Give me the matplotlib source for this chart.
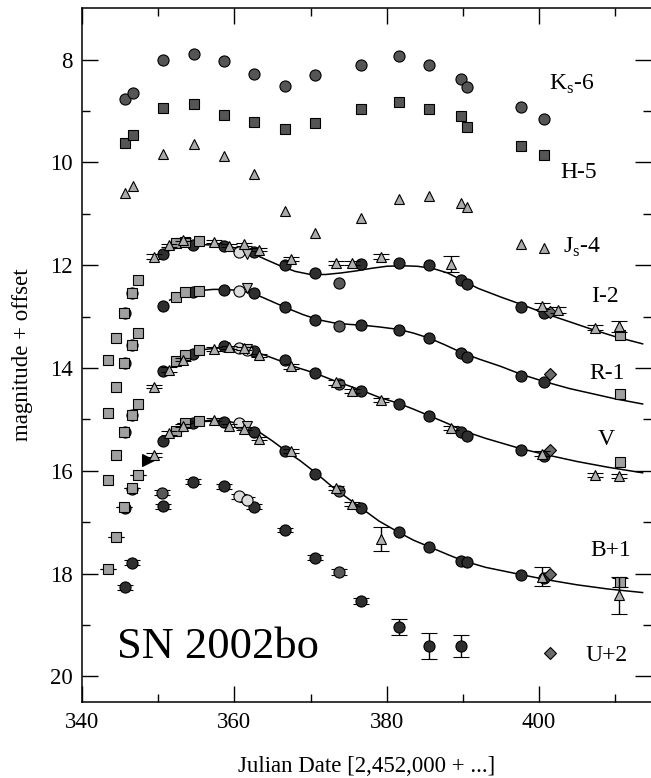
import numpy as np
import matplotlib
matplotlib.use("Agg")
import matplotlib.pyplot as plt

plt.rcParams['font.family'] = ['Liberation Serif', 'DejaVu Serif']
plt.rcParams['mathtext.fontset'] = 'custom'
plt.rcParams['mathtext.rm'] = 'Liberation Serif'

nan = np.nan

# ---- near-IR (offset already applied)
ir_t = [345.7, 346.7, 350.6, 354.7, 358.6, 362.6, 366.6, 370.6, 376.6, 381.6,
        385.6, 389.7, 390.6, 397.6, 400.6]
ks_m = [8.76, 8.65, 8.00, 7.89, 8.02, 8.27, 8.52, 8.29, 8.10, 7.92,
        8.10, 8.37, 8.54, 8.92, 9.15]
h_m = [9.62, 9.47, 8.94, 8.87, 9.07, 9.22, 9.35, 9.23, 8.96, 8.83,
       8.96, 9.10, 9.30, 9.68, 9.86]
j_m = [10.59, 10.46, 9.83, 9.65, 9.88, 10.23, 10.95, 11.37, 11.09, 10.72,
       10.65, 10.78, 10.86, 11.58, 11.66]

# ---- optical, dark circles
circ_t = [345.6, 346.5, 350.6, 354.6, 358.6, 362.6, 366.6, 370.6, 376.6, 381.6,
          385.6, 389.7, 390.6, 397.6, 400.6]
circ_I = [12.93, 12.55, 11.79, 11.61, 11.62, 11.75, 11.99, 12.16, 11.98, 11.95,
          11.99, 12.29, 12.37, 12.82, 12.92]
circ_R = [13.91, 13.55, 12.80, 12.53, 12.48, 12.54, 12.82, 13.07, 13.16, 13.26,
          13.42, 13.71, 13.79, 14.15, 14.28]
circ_V = [15.24, 14.91, 14.05, 13.73, 13.58, 13.66, 13.84, 14.10, 14.45, 14.70,
          14.94, 15.24, 15.32, 15.59, 15.71]
circ_B = [16.72, 16.36, 15.43, 15.07, 15.05, 15.25, 15.61, 16.06, 16.72, 17.20,
          17.48, 17.76, 17.77, 18.02, 18.08]
circ_U = [18.27, 17.79, 16.69, 16.21, 16.30, 16.70, 17.16, 17.69, 18.54, 19.04,
          19.41, 19.41, nan, nan, nan]
circ_Ue = [0.05, 0.05, 0.05, 0.05, 0.05, 0.05, 0.04, 0.05, 0.06, 0.16,
           0.25, 0.22, 0, 0, 0]

# medium grey circles
mid_t = [350.5, 373.7]
mid_I = [nan, 12.34]
mid_R = [nan, 13.18]
mid_V = [nan, 14.31]
mid_B = [nan, 16.40]
mid_U = [16.43, 17.97]

# light grey circles
lc_t = [360.6, 361.6]
lc_I = [11.75, nan]
lc_R = [12.50, nan]
lc_V = [13.61, 13.64]
lc_B = [15.07, nan]
lc_U = [16.50, 16.56]

# inverted triangles
inv_t = [361.6]
inv_I = [11.79]
inv_R = [12.45]
inv_V = [13.63]
inv_B = [15.12]

# light grey triangles with error bars
tri_t = [349.4, 351.4, 353.3, 357.3, 359.3, 361.2, 363.3, 367.4, 373.4, 375.4,
         379.3, 388.4, 400.4, 402.5, 407.4, 410.5]
tri_I = [11.83, 11.61, 11.50, 11.54, 11.62, 11.59, 11.70, 11.88, 11.96, 11.95,
         11.83, 11.98, 12.80, 12.87, 13.22, 13.19]
tri_Ie = [0.04, 0.03, 0.03, 0.03, 0.03, 0.03, 0.03, 0.04, 0.04, 0.04,
          0.04, 0.16, 0.06, 0.05, 0.05, 0.10]
tri_V = [14.36, 14.03, 13.84, 13.63, 13.60, 13.62, 13.75, 13.97, 14.28, 14.44,
         14.62, 15.17, 15.67, nan, 16.09, 16.11]
tri_Ve = [0.03, 0.04, 0.03, 0.03, 0.03, 0.03, 0.03, 0.04, 0.05, 0.04,
          0.04, 0.04, 0.05, 0, 0.04, 0.04]
tri_B = [15.69, 15.27, 15.12, 15.01, 15.12, 15.18, 15.38, 15.61, 16.34, 16.64,
         17.33, nan, 18.06, nan, nan, 18.42]
tri_Be = [0.04, 0.04, 0.03, 0.03, 0.03, 0.03, 0.03, 0.04, 0.04, 0.04,
          0.23, 0, 0.18, 0, 0, 0.36]

# light grey squares
sq_t = [343.4, 344.5, 345.5, 346.5, 347.4, 352.4, 353.5, 355.4, 410.6]
sq_I = [13.85, 13.42, 12.93, 12.55, 12.29, 11.56, 11.54, 11.53, 13.36]
sq_R = [14.88, 14.36, 13.91, 13.55, 13.31, 12.62, 12.53, 12.50, 14.50]
sq_V = [16.18, 15.70, 15.24, 14.91, 14.70, 13.86, 13.75, 13.65, 15.83]
sq_B = [17.92, 17.28, 16.70, 16.33, 16.09, 15.22, 15.07, 15.04, 18.17]
sq_Be = [0, 0, 0, 0, 0, 0, 0, 0, 0.09]

# diamonds
dia_t = [401.5]
dia_m = [12.91, 14.12, 15.60, 18.00, 19.55]   # I R V B U

# black triangle
blk_t = [348.7]
blk_B = [15.80]

# template fits
fitI_t = [350.5, 352, 354, 356, 358, 360, 362, 364, 366, 368, 370, 372, 374, 376,
          378, 380, 382, 384, 386, 388, 390, 392, 395, 398, 401, 404, 407, 410, 413.6]
fitI_m = [11.78, 11.68, 11.62, 11.60, 11.61, 11.66, 11.74, 11.88, 12.01, 12.12,
          12.18, 12.18, 12.15, 12.11, 12.06, 12.02, 12.01, 12.02, 12.06, 12.15,
          12.30, 12.45, 12.62, 12.78, 12.95, 13.10, 13.25, 13.39, 13.53]
fitR_t = [351.5, 353, 355, 357.2, 359, 361, 363, 365, 367, 369, 371, 373, 375, 377,
          379, 381.6, 383.5, 385.6, 387.5, 389.7, 392, 395, 397.6, 400.6, 404, 407,
          410, 413.6]
fitR_m = [12.68, 12.57, 12.50, 12.47, 12.47, 12.50, 12.58, 12.71, 12.84, 12.96,
          13.06, 13.12, 13.15, 13.17, 13.20, 13.25, 13.32, 13.42, 13.54, 13.69,
          13.82, 13.97, 14.12, 14.26, 14.40, 14.50, 14.60, 14.70]
fitV_t = [352, 354, 356, 358, 360, 362, 364, 366, 368, 370.6, 373, 376.6, 379,
          381.6, 383.5, 385.6, 388, 390, 393, 397.6, 401, 405, 409, 413.6]
fitV_m = [13.86, 13.72, 13.64, 13.61, 13.62, 13.66, 13.75, 13.86, 13.98, 14.10,
          14.24, 14.43, 14.57, 14.69, 14.80, 14.93, 15.08, 15.22, 15.37, 15.57,
          15.69, 15.82, 15.93, 16.04]
fitB_t = [351.3, 353, 355, 357.2, 359, 361, 363, 365, 367, 368.6, 370.6, 373,
          376.6, 379, 381.6, 383.5, 385.6, 388, 390, 393, 397.6, 401, 405, 409, 413.6]
fitB_m = [15.28, 15.14, 15.05, 15.01, 15.03, 15.10, 15.22, 15.42, 15.64, 15.80,
          16.03, 16.33, 16.72, 16.98, 17.20, 17.35, 17.48, 17.63, 17.75, 17.88,
          18.02, 18.12, 18.22, 18.30, 18.37]

band_labels = [r'K$_{\rm s}$-6', 'H-5', r'J$_{\rm s}$-4', 'I-2', 'R-1', 'V', 'B+1', 'U+2']
label_x = [401.3, 402.8, 403.2, 406.9, 406.6, 407.7, 406.7, 406.1]
label_y = [8.49, 10.2, 11.65, 12.6, 14.1, 15.4, 17.55, 19.6]

# ------------------------------------------------------------
fig = plt.figure(figsize=(6.51, 7.78), dpi=100)
ax = fig.add_axes([0.126, 0.0977, 0.874, 0.8916])

mk = dict(ls='none', mec='k', mew=0.8)

# fits
for t, m in [(fitI_t, fitI_m), (fitR_t, fitR_m), (fitV_t, fitV_m), (fitB_t, fitB_m)]:
    ax.plot(t, m, '-', color='k', lw=1.1, zorder=2)

# IR
ax.plot(ir_t, ks_m, 'o', ms=8, mfc='#555555', zorder=3, **mk)
ax.plot(ir_t, h_m, 's', ms=7, mfc='#555555', zorder=3, **mk)
ax.plot(ir_t, j_m, '^', ms=7.5, mfc='#aaaaaa', zorder=3, **mk)

# dark circles
for m in [circ_I, circ_R, circ_V, circ_B]:
    ax.plot(circ_t, m, 'o', ms=8, mfc='#2e2e2e', zorder=4, **mk)
ax.errorbar(circ_t, circ_U, yerr=circ_Ue, fmt='o', ms=8, mfc='#2e2e2e', mec='k',
            mew=0.8, ecolor='k', elinewidth=1, capsize=6, capthick=1, zorder=4)

# medium circles
for m in [mid_I, mid_R, mid_V, mid_B]:
    ax.plot(mid_t, m, 'o', ms=8, mfc='#585858', zorder=4, **mk)
ax.errorbar(mid_t, mid_U, yerr=0.05, fmt='o', ms=8, mfc='#585858', mec='k',
            mew=0.8, ecolor='k', elinewidth=1, capsize=6, capthick=1, zorder=4)

# light circles
for m in [lc_I, lc_R, lc_V, lc_B]:
    ax.plot(lc_t, m, 'o', ms=8, mfc='#dddddd', zorder=4, **mk)
ax.errorbar(lc_t, lc_U, yerr=0.05, fmt='o', ms=8, mfc='#dddddd', mec='k',
            mew=0.8, ecolor='k', elinewidth=1, capsize=6, capthick=1, zorder=4)

# inverted triangles
for m in [inv_I, inv_R, inv_V, inv_B]:
    ax.plot(inv_t, m, 'v', ms=7.5, mfc='#bbbbbb', zorder=5, **mk)

# triangles with error bars
for m, e in [(tri_I, tri_Ie), (tri_V, tri_Ve), (tri_B, tri_Be)]:
    ax.errorbar(tri_t, m, yerr=e, fmt='^', ms=7.5, mfc='#b0b0b0', mec='k', mew=0.8,
                ecolor='k', elinewidth=1, capsize=6, capthick=1, zorder=6)

# squares
for m in [sq_I, sq_R, sq_V]:
    ax.plot(sq_t, m, 's', ms=7, mfc='#a0a0a0', zorder=5, **mk)
ax.errorbar(sq_t, sq_B, yerr=sq_Be, fmt='s', ms=7, mfc='#a0a0a0', mec='k', mew=0.8,
            ecolor='k', elinewidth=1, capsize=6, capthick=1, zorder=5)

# diamonds
ax.plot(dia_t * 5, dia_m, 'D', ms=6, mfc='#6a6a6a', zorder=5, **mk)

# black triangle
ax.plot(blk_t, blk_B, '>', ms=8, mfc='k', zorder=5, **mk)

# labels
for s, x, y in zip(band_labels, label_x, label_y):
    ax.text(x, y, s, fontsize=17, va='center', ha='left')
ax.text(344.6, 19.65, 'SN 2002bo', fontsize=32, va='baseline', ha='left')

ax.set_xlim(340, 414.7)
ax.set_ylim(20.5, 7.0)
ax.set_xticks([340, 360, 380, 400])
ax.set_xticks(np.arange(350, 415, 20), minor=True)
ax.set_yticks([8, 10, 12, 14, 16, 18, 20])
ax.set_yticks(np.arange(9, 21, 2), minor=True)
ax.tick_params(which='both', direction='in', top=True, right=True, width=1.0,
               labelsize=16.5, pad=7)
ax.tick_params(which='major', length=11.5)
ax.tick_params(which='minor', length=5.8)
for sp in ['left', 'bottom', 'top']:
    ax.spines[sp].set_linewidth(1.1)
ax.spines['right'].set_visible(False)

fig.text(366.5 / 651, 5.5 / 778, 'Julian Date [2,452,000 + ...]', fontsize=16.5,
         ha='center', va='baseline')
ax.set_ylabel('magnitude + offset', fontsize=16.5, labelpad=12)

fig.savefig('out.png', dpi=100)
